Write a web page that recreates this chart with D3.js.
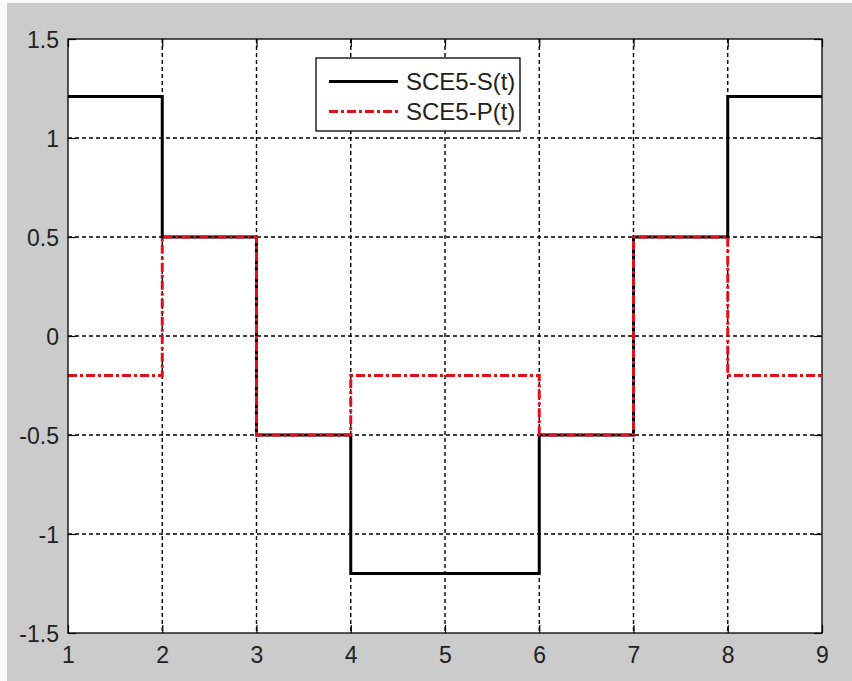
<!DOCTYPE html>
<html>
<head>
<meta charset="utf-8">
<script src="https://cdn.jsdelivr.net/npm/d3@7"></script>
<style>
  html, body { margin: 0; padding: 0; background: #fff; }
  svg { display: block; }
</style>
</head>
<body>
<div id="chart"></div>
<script>
// step edges on the time axis and the value held on each interval
const tEdges = [1, 2, 3, 4, 5, 6, 7, 8, 9];
const sValues = [1.21, 0.5, -0.5, -1.2, -1.2, -0.5, 0.5, 1.21];
const pValues = [-0.2, 0.5, -0.5, -0.2, -0.2, -0.5, 0.5, -0.2];
const xTicks = [1, 2, 3, 4, 5, 6, 7, 8, 9];
const yTicks = [-1.5, -1, -0.5, 0, 0.5, 1, 1.5];
const seriesNames = ["SCE5-S(t)", "SCE5-P(t)"];

const W = 852, H = 681;
const margin = { top: 39, right: 30, bottom: 48, left: 68 };
const width = W - margin.left - margin.right;
const height = H - margin.top - margin.bottom;
const font = "'Liberation Sans', Arial, sans-serif";

const svg = d3.select("#chart").append("svg")
  .attr("width", W)
  .attr("height", H);

// figure background with the light frame on left/top
svg.append("rect").attr("width", W).attr("height", H).attr("fill", "#fafafa");
svg.append("rect").attr("x", 7).attr("y", 3).attr("width", W - 7).attr("height", H - 3).attr("fill", "#cbcbcb");

const g = svg.append("g").attr("transform", `translate(${margin.left},${margin.top})`);

const x = d3.scaleLinear().domain([1, 9]).range([0, width]);
const y = d3.scaleLinear().domain([-1.5, 1.5]).range([height, 0]);

g.append("rect").attr("width", width).attr("height", height).attr("fill", "#fff");

// grid
g.append("g").selectAll("line")
  .data(xTicks.slice(1, -1))
  .join("line")
  .attr("x1", d => x(d)).attr("x2", d => x(d))
  .attr("y1", 0).attr("y2", height)
  .attr("stroke", "#000").attr("stroke-width", 1.4)
  .attr("stroke-dasharray", "4,3");

g.append("g").selectAll("line")
  .data(yTicks.slice(1, -1))
  .join("line")
  .attr("y1", d => y(d)).attr("y2", d => y(d))
  .attr("x1", 0).attr("x2", width)
  .attr("stroke", "#000").attr("stroke-width", 1.4)
  .attr("stroke-dasharray", "4,3");

// axes with inward ticks
const xAxis = g.append("g")
  .attr("transform", `translate(0,${height})`)
  .call(d3.axisBottom(x).tickValues(xTicks).tickSize(-8).tickPadding(14).tickFormat(d => String(d)));
const xAxisTop = g.append("g")
  .call(d3.axisTop(x).tickValues(xTicks).tickSize(-8).tickFormat(""));
const yAxis = g.append("g")
  .call(d3.axisLeft(y).tickValues(yTicks).tickSize(-8).tickPadding(9).tickFormat(d => String(d)));
const yAxisRight = g.append("g")
  .attr("transform", `translate(${width},0)`)
  .call(d3.axisRight(y).tickValues(yTicks).tickSize(-8).tickFormat(""));

[xAxis, xAxisTop, yAxis, yAxisRight].forEach(a => {
  a.select(".domain").remove();
  a.selectAll(".tick line").attr("stroke", "#000").attr("stroke-width", 1.2);
  a.selectAll("text").attr("font-family", font).attr("font-size", 23).attr("fill", "#222");
});
yAxis.selectAll("text").attr("dy", "0.36em");

// step lines
const stepLine = d3.line()
  .x(d => x(d[0]))
  .y(d => y(d[1]))
  .curve(d3.curveStepAfter);

const toPoints = vals => {
  const pts = vals.map((v, i) => [tEdges[i], v]);
  pts.push([tEdges[tEdges.length - 1], vals[vals.length - 1]]);
  return pts;
};

g.append("path")
  .datum(toPoints(sValues))
  .attr("d", stepLine)
  .attr("fill", "none")
  .attr("stroke", "#000")
  .attr("stroke-width", 3);

g.append("path")
  .datum(toPoints(pValues))
  .attr("d", stepLine)
  .attr("fill", "none")
  .attr("stroke", "#e0101a")
  .attr("stroke-width", 3)
  .attr("stroke-dasharray", "9,3,3,3");

// axes box
g.append("rect")
  .attr("width", width).attr("height", height)
  .attr("fill", "none").attr("stroke", "#000").attr("stroke-width", 1.3);

// legend
const legend = svg.append("g").attr("transform", "translate(316,58)");
legend.append("rect")
  .attr("width", 204).attr("height", 73)
  .attr("fill", "#fff").attr("stroke", "#000").attr("stroke-width", 1.3);

const legendStyles = [
  { color: "#000", dash: null },
  { color: "#e0101a", dash: "9,3,3,3" }
];
seriesNames.forEach((name, i) => {
  const ly = 23.5 + i * 30;
  legend.append("line")
    .attr("x1", 13).attr("x2", 82)
    .attr("y1", ly).attr("y2", ly)
    .attr("stroke", legendStyles[i].color)
    .attr("stroke-width", 3)
    .attr("stroke-dasharray", legendStyles[i].dash);
  legend.append("text")
    .attr("x", 90).attr("y", ly)
    .attr("dy", "0.36em")
    .attr("font-family", font)
    .attr("font-size", 24)
    .attr("fill", "#222")
    .text(name);
});
</script>
</body>
</html>
